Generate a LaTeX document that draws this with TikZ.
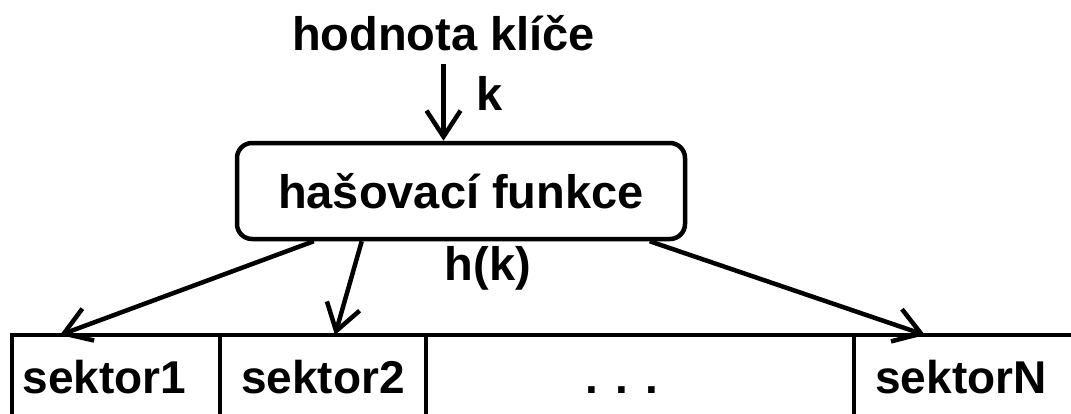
\documentclass[tikz,border=0pt]{standalone}
\usepackage{fontspec}
\setmainfont{Liberation Sans}
\usetikzlibrary{positioning,arrows.meta}

\begin{document}
\begin{tikzpicture}[x=1pt,y=-1pt,line width=4.5pt,
    big/.style={font=\fontsize{47}{56}\selectfont\bfseries},
    cell/.style={draw,font=\fontsize{46}{55}\selectfont\bfseries,minimum height=84pt,inner sep=0pt,outer sep=0pt,text height=33pt,text depth=0pt},
    arr/.style={-{Straight Barb[length=26pt,width=34pt]}}]

\useasboundingbox (0,0) rectangle (1071,413);
\clip (0,0) rectangle (1071,413);

\node[big,anchor=base,inner sep=11pt] (key) at (443.5,50) {hodnota klíče};
\node[big,draw,rounded corners=15pt,minimum width=448pt,minimum height=96pt] (hash) at (461,191) {hašovací funkce};
\node[big,anchor=base] (k) at (490,110) {k};
\node[big,anchor=base] (hk) at (488,280) {h(k)};

\node[cell,anchor=north west,minimum width=208pt] (s1) at (12,335) {sektor1\hspace*{23pt}};
\node[cell,minimum width=206pt,right=0pt of s1] (s2) {sektor2};
\node[cell,minimum width=428pt,right=0pt of s2] (dots) {. . .\hspace*{36pt}};
\node[cell,minimum width=250pt,right=0pt of dots] (sN) {sektorN\hspace*{36pt}};

\draw[arr] (key.south) -- (key.south |- hash.north);
\draw[arr] ([xshift=79pt]hash.south west) -- ([xshift=48pt]s1.north west);
\draw[arr] ([xshift=127pt]hash.south west) -- ([xshift=115pt]s2.north west);
\draw[arr] ([xshift=415pt]hash.south west) -- ([xshift=71pt]sN.north west);

\end{tikzpicture}
\end{document}
